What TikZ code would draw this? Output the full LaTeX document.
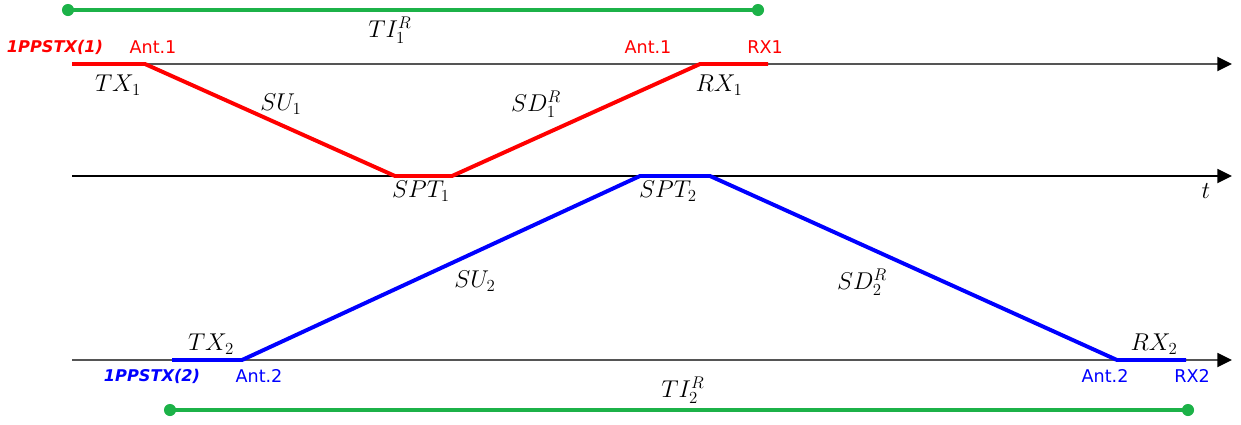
\documentclass[tikz,border=0pt]{standalone}
\usepackage{fontspec}
\newfontfamily\tagfont{DejaVu Sans}
\usetikzlibrary{arrows.meta}
\definecolor{sigred}{RGB}{255,0,0}
\definecolor{sigblue}{RGB}{0,0,255}
\definecolor{tigreen}{RGB}{28,178,72}
\definecolor{axgray}{RGB}{85,85,85}

\tikzset{
  timeaxis/.style={line width=1.2pt,-{Triangle[length=10.5pt,width=10pt,color=black]}},
  redpath/.style={sigred,line width=2.8pt,line join=round},
  bluepath/.style={sigblue,line width=2.8pt,line join=round},
  interval/.style={tigreen,line width=2.8pt},
  mathlbl/.style={font=\fontsize{16.5}{18}\selectfont},
  tag/.style={font=\tagfont\fontsize{12.5}{14}\selectfont},
  ppstag/.style={font=\tagfont\bfseries\itshape\fontsize{11.5}{13}\selectfont}
}

\begin{document}
\begin{tikzpicture}[x=0.025cm,y=-0.025cm]
  \useasboundingbox (0,0) rectangle (1241,424);

  % time axes
  \coordinate (ax1s) at (72,64);   \coordinate (ax1e) at (1232,64);
  \coordinate (ax2s) at (72,176);  \coordinate (ax2e) at (1232,176);
  \coordinate (ax3s) at (72,360);  \coordinate (ax3e) at (1232,360);
  \draw[timeaxis,axgray] (ax1s) -- (ax1e);
  \draw[timeaxis,black] (ax2s) -- (ax2e);
  \draw[timeaxis,axgray] (ax3s) -- (ax3e);
  \node[mathlbl] (t) at (1206,191) {$t$};

  % station 1 (red)
  \coordinate (tx1) at (72,64);
  \coordinate (ant1a) at (145,64);
  \coordinate (spt1a) at (395,176);
  \coordinate (spt1b) at (452,176);
  \coordinate (ant1b) at (700,64);
  \coordinate (rx1) at (768,64);
  \draw[redpath] (tx1) -- (ant1a) -- (spt1a) -- (spt1b) -- (ant1b) -- (rx1);

  % station 2 (blue)
  \coordinate (tx2) at (172,360);
  \coordinate (ant2a) at (242,360);
  \coordinate (spt2a) at (640,176);
  \coordinate (spt2b) at (710,176);
  \coordinate (ant2b) at (1117,360);
  \coordinate (rx2) at (1186,360);
  \draw[bluepath] (tx2) -- (ant2a) -- (spt2a) -- (spt2b) -- (ant2b) -- (rx2);

  % intervals
  \coordinate (ti1s) at (68,10);   \coordinate (ti1e) at (758,10);
  \coordinate (ti2s) at (170,410); \coordinate (ti2e) at (1188,410);
  \draw[interval] (ti1s) -- (ti1e);
  \draw[interval] (ti2s) -- (ti2e);
  \foreach \p in {ti1s,ti1e,ti2s,ti2e}
    \fill[tigreen] (\p) circle (4.3pt);
  \node[mathlbl] (ti1) at (390,30) {$TI_1^R$};
  \node[mathlbl] (ti2) at (683,390) {$TI_2^R$};

  % red labels
  \node[ppstag,sigred] (pps1) at (55,47) {1PPSTX(1)};
  \node[tag,sigred] (ant1lbl) at (153,47) {Ant.1};
  \node[tag,sigred] (ant1rlbl) at (648,47) {Ant.1};
  \node[tag,sigred] (rx1lbl) at (765,47) {RX1};
  \node[mathlbl] (tx1lbl) at (118,85) {$TX_1$};
  \node[mathlbl] (su1) at (281,104) {$SU_1$};
  \node[mathlbl] (sd1) at (536,104) {$SD_1^R$};
  \node[mathlbl] (rx1lbl2) at (719,85) {$RX_1$};
  \node[mathlbl] (spt1) at (421,191) {$SPT_1$};

  % blue labels
  \node[mathlbl] (spt2) at (668,191) {$SPT_2$};
  \node[mathlbl] (su2) at (475,281) {$SU_2$};
  \node[mathlbl] (sd2) at (862,282) {$SD_2^R$};
  \node[mathlbl] (tx2lbl) at (211,344) {$TX_2$};
  \node[mathlbl] (rx2lbl2) at (1154,344) {$RX_2$};
  \node[ppstag,sigblue] (pps2) at (152,376) {1PPSTX(2)};
  \node[tag,sigblue] (ant2lbl) at (259,376) {Ant.2};
  \node[tag,sigblue] (ant2rlbl) at (1105,376) {Ant.2};
  \node[tag,sigblue] (rx2lbl) at (1192,376) {RX2};
\end{tikzpicture}
\end{document}
